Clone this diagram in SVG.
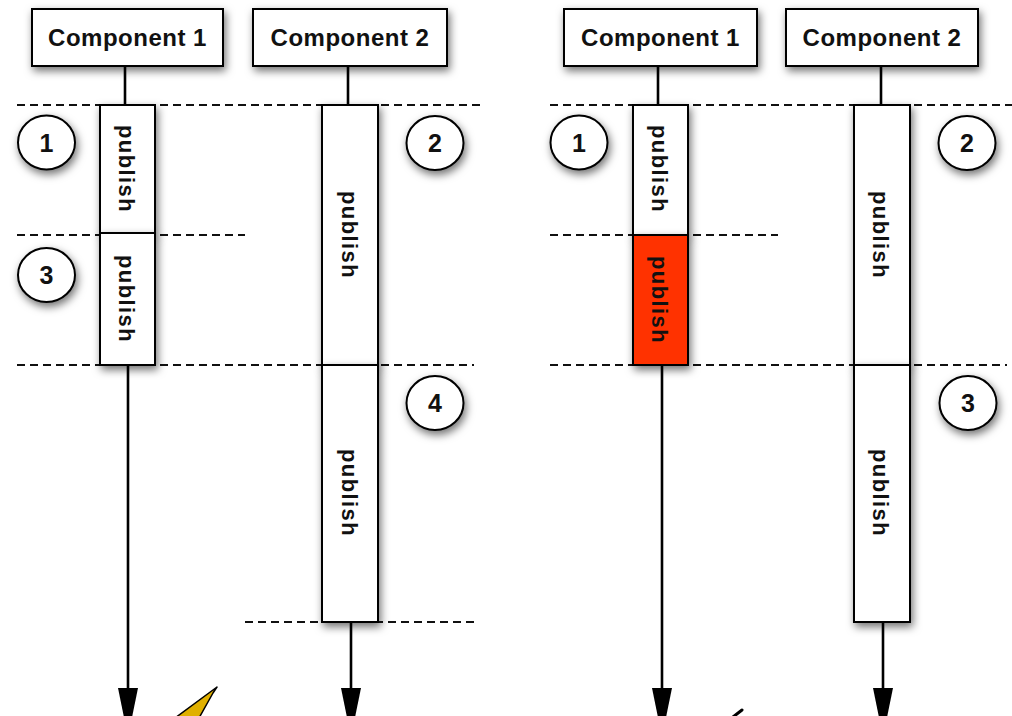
<svg xmlns="http://www.w3.org/2000/svg" width="1012" height="716" viewBox="0 0 1012 716">
<defs>
<filter id="sh" x="-30%" y="-30%" width="170%" height="170%">
<feDropShadow dx="2" dy="4" stdDeviation="4.5" flood-color="#000" flood-opacity="0.55"/>
</filter>
<marker id="arr" markerUnits="userSpaceOnUse" markerWidth="50" markerHeight="22" viewBox="0 -11 50 22" refX="49" refY="0" orient="auto">
<path d="M0,-10 L49,0 L0,10 z" fill="#000"/>
</marker>
<style>
.comp{fill:#fff;stroke:#000;stroke-width:2;filter:url(#sh)}
.ct{font-family:"Liberation Sans",Arial,sans-serif;font-weight:bold;font-size:24px;letter-spacing:0.5px;text-anchor:middle;fill:#111}
.act{fill:#fff;stroke:#000;stroke-width:2;filter:url(#sh)}
.red{fill:#ff3300}
.pt{font-family:"Liberation Sans",Arial,sans-serif;font-weight:bold;font-size:22px;letter-spacing:1.4px;text-anchor:middle;fill:#111}
.num{fill:#fff;stroke:#000;stroke-width:2;filter:url(#sh)}
.nt{font-family:"Liberation Sans",Arial,sans-serif;font-weight:bold;font-size:25px;text-anchor:middle;fill:#111}
.life{stroke:#000;stroke-width:2.6;fill:none}
.dash{stroke:#111;stroke-width:1.8;stroke-dasharray:8 5;fill:none}
</style>
</defs>
<rect width="1012" height="716" fill="#fff"/>

<g id="dividers">
<line class="dash" x1="17" y1="105" x2="485" y2="105"/>
<line class="dash" x1="17" y1="235" x2="245" y2="235"/>
<line class="dash" x1="17" y1="365" x2="474" y2="365"/>
<line class="dash" x1="245" y1="622" x2="474" y2="622"/>
<line class="dash" x1="550" y1="105" x2="1012" y2="105"/>
<line class="dash" x1="550" y1="235" x2="778" y2="235"/>
<line class="dash" x1="550" y1="365" x2="1007" y2="365"/>
</g>

<g id="connectors">
<line class="life" x1="125" y1="66" x2="125" y2="105"/>
<line class="life" x1="348" y1="66" x2="348" y2="105"/>
<line class="life" x1="128" y1="365" x2="128" y2="737" marker-end="url(#arr)"/>
<line class="life" x1="351" y1="622" x2="351" y2="737" marker-end="url(#arr)"/>
<line class="life" x1="658" y1="66" x2="658" y2="105"/>
<line class="life" x1="881" y1="66" x2="881" y2="105"/>
<line class="life" x1="662" y1="365" x2="662" y2="737" marker-end="url(#arr)"/>
<line class="life" x1="883" y1="622" x2="883" y2="737" marker-end="url(#arr)"/>
</g>

<g id="left-component1">
<rect class="comp" x="32" y="9" width="191" height="57"/>
<text class="ct" x="127.5" y="45.5">Component 1</text>
</g>
<g id="left-component2">
<rect class="comp" x="253" y="9" width="194" height="57"/>
<text class="ct" x="350" y="45.5">Component 2</text>
</g>

<g id="left-c1-publish1">
<rect class="act" x="100" y="105" width="55" height="128"/>
<text class="pt" transform="translate(119,169) rotate(90)">publish</text>
</g>
<g id="left-c1-publish2">
<rect class="act" x="100" y="233" width="55" height="132"/>
<text class="pt" transform="translate(119,299) rotate(90)">publish</text>
</g>
<g id="left-c2-publish1">
<rect class="act" x="322" y="105" width="56" height="260"/>
<text class="pt" transform="translate(342,235) rotate(90)">publish</text>
</g>
<g id="left-c2-publish2">
<rect class="act" x="322" y="365" width="56" height="257"/>
<text class="pt" transform="translate(342,493) rotate(90)">publish</text>
</g>

<g id="left-step1">
<ellipse class="num" cx="46.5" cy="142.5" rx="28.5" ry="27"/>
<text class="nt" x="46.5" y="151.5">1</text>
</g>
<g id="left-step2">
<ellipse class="num" cx="435" cy="143" rx="28.5" ry="27"/>
<text class="nt" x="435" y="152">2</text>
</g>
<g id="left-step3">
<ellipse class="num" cx="46.5" cy="275" rx="28.5" ry="27"/>
<text class="nt" x="46.5" y="284">3</text>
</g>
<g id="left-step4">
<ellipse class="num" cx="435" cy="403" rx="28.5" ry="27"/>
<text class="nt" x="435" y="412">4</text>
</g>

<g id="right-component1">
<rect class="comp" x="564" y="9" width="193" height="57"/>
<text class="ct" x="660.5" y="45.5">Component 1</text>
</g>
<g id="right-component2">
<rect class="comp" x="786" y="9" width="192" height="57"/>
<text class="ct" x="882" y="45.5">Component 2</text>
</g>

<g id="right-c1-publish1">
<rect class="act" x="633" y="105" width="55" height="130"/>
<text class="pt" transform="translate(652,169) rotate(90)">publish</text>
</g>
<g id="right-c1-publish2">
<rect class="act red" x="633" y="235" width="55" height="130"/>
<text class="pt" transform="translate(652,300) rotate(90)">publish</text>
</g>
<g id="right-c2-publish1">
<rect class="act" x="854" y="105" width="56" height="260"/>
<text class="pt" transform="translate(873,235) rotate(90)">publish</text>
</g>
<g id="right-c2-publish2">
<rect class="act" x="854" y="365" width="56" height="257"/>
<text class="pt" transform="translate(873,493) rotate(90)">publish</text>
</g>

<g id="right-step1">
<ellipse class="num" cx="579" cy="142.5" rx="28.5" ry="27"/>
<text class="nt" x="579" y="151.5">1</text>
</g>
<g id="right-step2">
<ellipse class="num" cx="967" cy="143" rx="28.5" ry="27"/>
<text class="nt" x="967" y="152">2</text>
</g>
<g id="right-step3">
<ellipse class="num" cx="968" cy="403" rx="28.5" ry="27"/>
<text class="nt" x="968" y="412">3</text>
</g>

<g id="pencil-left">
<polygon points="217,687 175,718 199,718 213,693" fill="#e0b000" stroke="#000" stroke-width="1.5" stroke-linejoin="round"/>
</g>
<g id="pencil-right">
<line x1="742" y1="710" x2="733" y2="717" stroke="#000" stroke-width="3" stroke-linecap="round"/>
</g>
</svg>
